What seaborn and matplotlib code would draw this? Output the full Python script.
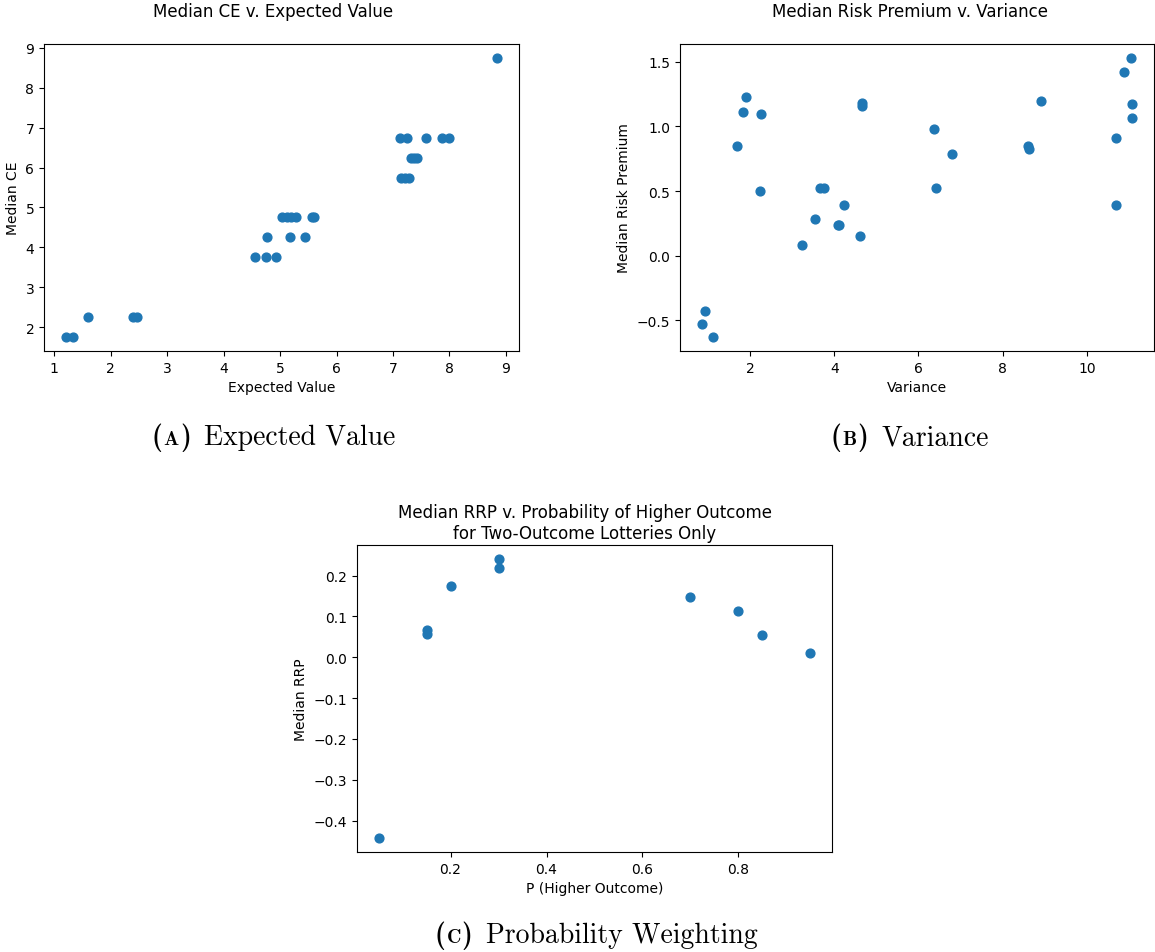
import matplotlib
matplotlib.use("Agg")
import matplotlib.pyplot as plt
import seaborn as sns
import numpy as np

# ---------------- data ----------------
# (A) Median CE v. Expected Value
ev_x = [1.20, 1.34, 1.60, 2.40, 2.47, 4.55, 4.75, 4.93, 4.77, 5.17, 5.45,
        5.03, 5.13, 5.20, 5.28, 5.57, 5.60, 7.15, 7.22, 7.28, 7.32, 7.38, 7.43,
        7.13, 7.25, 7.58, 7.86, 8.00, 8.85]
ev_y = [1.75, 1.75, 2.25, 2.25, 2.25, 3.75, 3.75, 3.75, 4.25, 4.25, 4.25,
        4.75, 4.75, 4.75, 4.75, 4.75, 4.75, 5.75, 5.75, 5.75, 6.25, 6.25, 6.25,
        6.75, 6.75, 6.75, 6.75, 6.75, 8.75]

# (B) Median Risk Premium v. Variance
var_x = [0.85, 0.93, 1.12, 1.70, 1.83, 1.90, 2.26, 2.23, 3.23, 3.54, 3.67, 3.75,
         4.08, 4.12, 4.24, 4.60, 4.65, 4.65, 6.38, 6.42, 6.79, 8.59, 8.63, 8.90,
         10.68, 10.68, 10.88, 11.04, 11.08, 11.08]
var_y = [-0.53, -0.43, -0.63, 0.85, 1.11, 1.23, 1.10, 0.50, 0.085, 0.28, 0.52, 0.52,
         0.24, 0.24, 0.39, 0.15, 1.18, 1.155, 0.98, 0.52, 0.79, 0.85, 0.825, 1.20,
         0.91, 0.39, 1.42, 1.53, 1.175, 1.065]

# (C) Median RRP v. P (Higher Outcome)
p_x = [0.05, 0.15, 0.15, 0.20, 0.30, 0.30, 0.70, 0.80, 0.85, 0.95]
p_y = [-0.443, 0.066, 0.058, 0.175, 0.241, 0.220, 0.147, 0.113, 0.055, 0.010]

titles = ["Median CE v. Expected Value",
          "Median Risk Premium v. Variance",
          "Median RRP v. Probability of Higher Outcome\nfor Two-Outcome Lotteries Only"]
xlabels = ["Expected Value", "Variance", "P (Higher Outcome)"]
ylabels = ["Median CE", "Median Risk Premium", "Median RRP"]
cap_letters = ["A", "B", "C"]
cap_texts = ["Expected Value", "Variance", "Probability Weighting"]

# ---------------- figure ----------------
W, H = 1155, 953
fig = plt.figure(figsize=(W / 100, H / 100), dpi=100)
fig.patch.set_facecolor("white")

def px_axes(l, t, r, b):
    return fig.add_axes([l / W, 1 - b / H, (r - l) / W, (b - t) / H])

axA = px_axes(44, 45, 519, 352)
axB = px_axes(680, 45, 1154, 352)
axC = px_axes(357, 546, 832, 853)

color = "#1f77b4"
datasets = [(axA, ev_x, ev_y), (axB, var_x, var_y), (axC, p_x, p_y)]
for i, (ax, xs, ys) in enumerate(datasets):
    sns.scatterplot(x=xs, y=ys, ax=ax, color=color, s=40,
                    edgecolor=color, linewidth=1.0, legend=False)
    ax.set_xlabel(xlabels[i], fontsize=10)
    ax.set_ylabel(ylabels[i], fontsize=10)
    ax.tick_params(labelsize=10)

# titles (centered over sub-figure images)
fig.text(273 / W, 1 - 12 / H, titles[0], ha="center", va="center", fontsize=12)
fig.text(910 / W, 1 - 12 / H, titles[1], ha="center", va="center", fontsize=12)
fig.text(585 / W, 1 - 523.5 / H, titles[2], ha="center", va="center",
         fontsize=12, linespacing=1.25)

# captions: bold "(" small-cap letter ")" then roman text
renderer = fig.canvas.get_renderer()

def caption(xc, yb, letter, text):
    big = 20
    parts = [("(", "cmb10", big), (letter, "cmb10", big * 0.72),
             (")", "cmb10", big), (text, "cmr10", big)]
    gaps = [0, 1, 1, 13]
    objs = []
    for s, fam, sz in parts:
        t = fig.text(0, 1 - yb / H, s, family=fam, fontsize=sz,
                     ha="left", va="baseline")
        objs.append(t)
    widths = [o.get_window_extent(renderer).width for o in objs]
    total = sum(widths) + sum(gaps)
    x = xc - total / 2
    for o, w, g in zip(objs, widths, gaps):
        x += g
        o.set_x(x / W)
        x += w

caption(273.5, 445, cap_letters[0], cap_texts[0])
caption(909.7, 445, cap_letters[1], cap_texts[1])
caption(596, 943, cap_letters[2], cap_texts[2])

fig.savefig("out.png", dpi=100, facecolor="white")
